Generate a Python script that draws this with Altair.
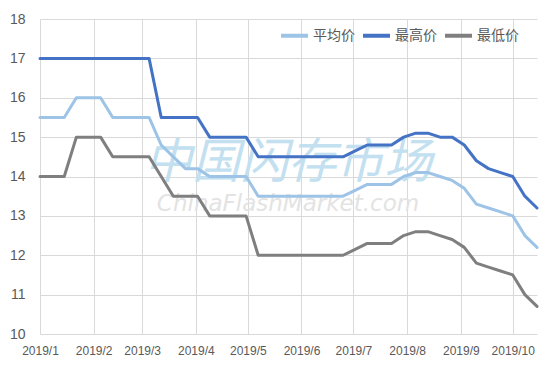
import altair as alt
import pandas as pd

start_date = "2019-01-01"
n_weeks = 42
series_names = ["平均价", "最高价", "最低价"]
series_colors = ["#9DC3E6", "#4472C4", "#7F7F7F"]

avg_price = [15.5, 15.5, 15.5, 16, 16, 16, 15.5, 15.5, 15.5, 15.5,
             14.8, 14.5, 14.2, 14.2, 14.0, 14.0, 14.0, 14.0, 13.5, 13.5,
             13.5, 13.5, 13.5, 13.5, 13.5, 13.5, 13.65, 13.8, 13.8, 13.8,
             14.0, 14.1, 14.1, 14.0, 13.9, 13.7, 13.3, 13.2, 13.1, 13.0,
             12.5, 12.2]
max_price = [17, 17, 17, 17, 17, 17, 17, 17, 17, 17,
             15.5, 15.5, 15.5, 15.5, 15.0, 15.0, 15.0, 15.0, 14.5, 14.5,
             14.5, 14.5, 14.5, 14.5, 14.5, 14.5, 14.65, 14.8, 14.8, 14.8,
             15.0, 15.1, 15.1, 15.0, 15.0, 14.8, 14.4, 14.2, 14.1, 14.0,
             13.5, 13.2]
min_price = [14, 14, 14, 15, 15, 15, 14.5, 14.5, 14.5, 14.5,
             14.0, 13.5, 13.5, 13.5, 13.0, 13.0, 13.0, 13.0, 12.0, 12.0,
             12.0, 12.0, 12.0, 12.0, 12.0, 12.0, 12.15, 12.3, 12.3, 12.3,
             12.5, 12.6, 12.6, 12.5, 12.4, 12.2, 11.8, 11.7, 11.6, 11.5,
             11.0, 10.7]

month_ticks = ["2019-01-01", "2019-02-01", "2019-03-01", "2019-04-01", "2019-05-01",
               "2019-06-01", "2019-07-01", "2019-08-01", "2019-09-01", "2019-10-01"]
y_ticks = [10, 11, 12, 13, 14, 15, 16, 17, 18]
watermark_cn = "中国闪存市场"
watermark_en = "ChinaFlashMarket.com"

dates = pd.date_range(start_date, periods=n_weeks, freq="7D")
rows = []
for name, vals in zip(series_names, [avg_price, max_price, min_price]):
    for d, v in zip(dates, vals):
        rows.append({"date": d.strftime("%Y-%m-%d"), "series": name, "value": v})
df = pd.DataFrame(rows)

tick_vals = [alt.DateTime(year=int(t[:4]), month=int(t[5:7]), date=1) for t in month_ticks]

x_enc = alt.X("date:T",
              scale=alt.Scale(domain=[dates[0].strftime("%Y-%m-%d"), dates[-1].strftime("%Y-%m-%d")], nice=False),
              axis=alt.Axis(values=tick_vals, format="%Y/%-m", title=None, ticks=False, domain=False,
                            labelPadding=11, labelFontSize=12, labelColor="#595959",
                            gridColor="#D9D9D9", labelFont="Liberation Sans", labelFlush=False))
y_enc = alt.Y("value:Q", scale=alt.Scale(domain=[10, 18], nice=False, zero=False),
              axis=alt.Axis(values=y_ticks, title=None, ticks=False, domain=False,
                            labelPadding=15, labelFontSize=14, labelColor="#595959",
                            gridColor="#D9D9D9", labelFont="Liberation Sans"))

lines = alt.Chart(df).mark_line(strokeWidth=3, strokeJoin="round", strokeCap="round").encode(
    x=x_enc,
    y=y_enc,
    color=alt.Color("series:N", sort=series_names,
                    scale=alt.Scale(domain=series_names, range=series_colors),
                    legend=alt.Legend(title=None, orient="none", legendX=239, legendY=1,
                                      direction="horizontal", symbolType="stroke",
                                      symbolSize=729, symbolStrokeWidth=4,
                                      labelFontSize=14, labelColor="#595959",
                                      labelFont="Noto Sans CJK SC", columnPadding=0,
                                      labelOffset=3, padding=0)),
)

wm1 = alt.Chart(pd.DataFrame({"t": [watermark_cn]})).mark_text(
    font="Noto Sans CJK SC", fontSize=48, fontStyle="italic", color="#C2E0EF",
    align="center", baseline="middle").encode(
    x=alt.value(248), y=alt.value(145), text="t:N")
wm2 = alt.Chart(pd.DataFrame({"t": [watermark_en]})).mark_text(
    font="DejaVu Sans", fontSize=23, fontStyle="italic", color="#E3E3E3",
    align="center", baseline="middle").encode(
    x=alt.value(248), y=alt.value(185), text="t:N")

chart = alt.layer(wm1, wm2, lines).properties(
    width=497, height=315,
    autosize=alt.AutoSizeParams(type="none"),
    padding={"left": 32, "top": 11, "right": 12, "bottom": 24},
    background="white",
).configure_view(stroke=None)

chart.save("out.html", embed_options={"renderer": "svg", "actions": False})
